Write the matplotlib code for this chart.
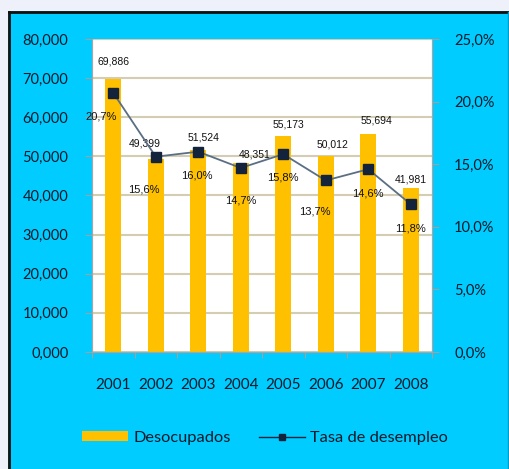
import matplotlib.pyplot as plt
from matplotlib.patches import Rectangle
from matplotlib.lines import Line2D
from matplotlib.ticker import FuncFormatter

years = ["2001", "2002", "2003", "2004", "2005", "2006", "2007", "2008"]
desocupados = [69886, 49399, 51524, 48351, 55173, 50012, 55694, 41981]
tasa = [20.7, 15.6, 16.0, 14.7, 15.8, 13.7, 14.6, 11.8]

# label offsets in pixels (dx, dy) relative to bar top / line point
bar_off = [(0, 17), (-11, 15), (5, 13), (14, 8), (5, 12), (7, 12), (8, 14), (0, 8)]
pct_off = [(-12, -24), (-12, -33), (-1, -24), (0, -33), (0, -23), (-11, -31), (0, -24), (0, -24)]

W, H = 509, 469
fig = plt.figure(figsize=(W / 100, H / 100), dpi=100)
fig.patch.set_facecolor("#EEF1FA")

# cyan panel with dark border on top/left
fig.patches.append(Rectangle((8 / W, 0), 1, (H - 11) / H, transform=fig.transFigure,
                             facecolor="#00CCFF", edgecolor="none", zorder=-10))
fig.lines.append(Line2D([9 / W, 9 / W], [0, (H - 12) / H], transform=fig.transFigure,
                        color="#111111", lw=2, zorder=-5))
fig.lines.append(Line2D([9 / W, 1], [(H - 12) / H, (H - 12) / H], transform=fig.transFigure,
                        color="#111111", lw=2, zorder=-5))
fig.lines.append(Line2D([507.5 / W, 507.5 / W], [0, (H - 12) / H], transform=fig.transFigure,
                        color="#0099CC", lw=1, zorder=-5))

ax = fig.add_axes([92 / W, 117 / H, 340 / W, 313 / H])
ax.set_facecolor("white")
ax2 = ax.twinx()

x = list(range(len(years)))
bars = ax.bar(x, desocupados, width=0.38, color="#FFC000", zorder=2, label="Desocupados")
ax.set_xlim(-0.5, 7.5)
ax.set_ylim(0, 80000)
ax.set_yticks(range(0, 80001, 10000))
ax.yaxis.set_major_formatter(FuncFormatter(lambda v, p: f"{int(v):,}" if v > 0 else "0,000"))
ax.grid(axis="y", color="#D3CDB3", lw=1.5, zorder=1)
ax.set_axisbelow(True)

ax.set_xticks([i - 0.5 for i in range(9)], minor=False)
ax.set_xticklabels([])
ax.set_xticks(x, minor=True)
ax.set_xticklabels(years, minor=True)
ax.tick_params(axis="x", which="major", length=4, color="#A0A0A0", direction="out")
ax.tick_params(axis="x", which="minor", length=0, pad=19, labelsize=11, labelcolor="#0A1A2A")
ax.tick_params(axis="y", length=5, color="#A0A0A0", pad=12, labelsize=10.5, labelcolor="#0A1A2A")
for t in ax.get_xticklabels(minor=True) + ax.get_yticklabels():
    t.set_fontfamily("Lato")

ln, = ax2.plot(x, tasa, color="#5A6E84", lw=1.3, marker="s", markersize=7,
               markerfacecolor="#13233B", markeredgecolor="#13233B", zorder=3,
               label="Tasa de desempleo")
ax2.set_ylim(0, 25)
ax2.set_yticks(range(0, 26, 5))
ax2.yaxis.set_major_formatter(FuncFormatter(lambda v, p: f"{v:.1f}%".replace(".", ",")))
ax2.tick_params(axis="y", length=5, color="#A0A0A0", pad=11, labelsize=10.5, labelcolor="#0A1A2A")
for t in ax2.get_yticklabels():
    t.set_fontfamily("Lato")

for a in (ax, ax2):
    for s in a.spines.values():
        s.set_color("#A6A6A6")
    a.spines["top"].set_visible(False)

for i, v in enumerate(desocupados):
    ax.annotate(f"{v:,}", (x[i], v), xytext=bar_off[i], textcoords="offset pixels",
                ha="center", va="center", fontsize=7.5, family="Liberation Sans",
                color="#111111", zorder=5)
for i, v in enumerate(tasa):
    ax2.annotate(f"{v:.1f}%".replace(".", ","), (x[i], v), xytext=pct_off[i],
                 textcoords="offset pixels", ha="center", va="center", fontsize=8,
                 family="Liberation Sans", color="#111111", zorder=5)

leg_bar = Rectangle((0, 0), 1, 1, facecolor="#FFC000", edgecolor="none")
leg_line = Line2D([], [], color="#13233B", lw=1, marker="s", markersize=5,
                  markerfacecolor="#13233B")
fig.legend([leg_bar, leg_line], ["Desocupados", "Tasa de desempleo"],
           loc="center", bbox_to_anchor=(265 / W, (H - 438) / H), ncol=2, frameon=False,
           prop={"family": "Lato", "size": 11.8}, handlelength=2.8, handleheight=0.6,
           columnspacing=1.7, handletextpad=0.35, labelcolor="#0A1A2A")

fig.savefig("out.png", dpi=100, facecolor=fig.get_facecolor())
